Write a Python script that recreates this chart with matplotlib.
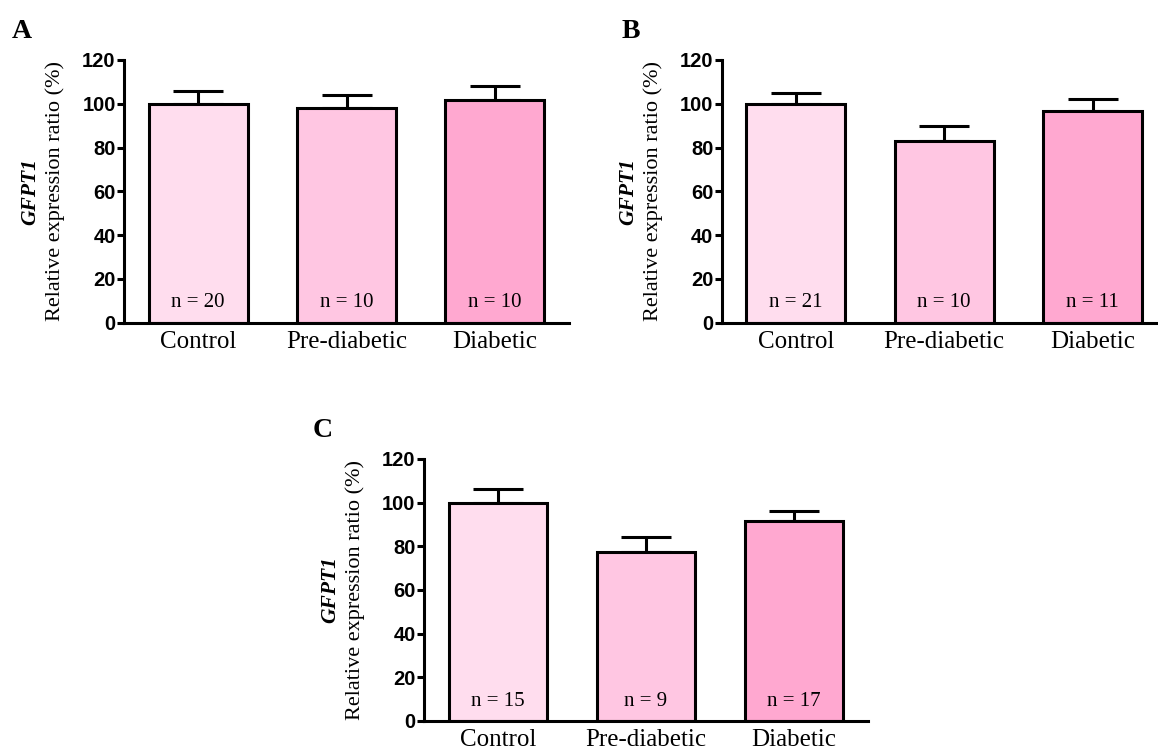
import numpy as np
import matplotlib
matplotlib.use('Agg')
import matplotlib.pyplot as plt

groups = ['Control', 'Pre-diabetic', 'Diabetic']
colors = ['#FFDDEE', '#FFC6E2', '#FFA8D0']

mean_a = [100, 98.2, 101.7]
sem_a = [5.8, 5.9, 6.3]
n_a = [20, 10, 10]

mean_b = [100, 83.2, 96.5]
sem_b = [4.9, 6.6, 5.6]
n_b = [21, 10, 11]

mean_c = [100, 77.2, 91.6]
sem_c = [6.2, 7.2, 4.4]
n_c = [15, 9, 17]

serif = 'Liberation Serif'
sans = 'Liberation Sans'


def panel(ax, means, sems, ns, letter, lx):
    x = np.arange(len(groups))
    ax.bar(x, means, width=0.667, color=colors, edgecolor='black', linewidth=2.2, zorder=2)
    ax.errorbar(x, means, yerr=[np.zeros(len(sems)), sems], fmt='none', ecolor='black',
                elinewidth=2.2, capsize=18, capthick=2.2, zorder=1)
    for xi, n in zip(x, ns):
        ax.text(xi, 9, 'n = %d' % n, ha='center', va='center', fontsize=15, family=serif)
    ax.set_xlim(-0.5, 2.5)
    ax.set_ylim(0, 120)
    ax.set_yticks(np.arange(0, 121, 20))
    ax.set_xticks(x)
    ax.set_xticklabels(groups, family=serif, fontsize=18)
    for lbl in ax.get_yticklabels():
        lbl.set_family(sans)
        lbl.set_fontweight('bold')
        lbl.set_fontsize(14.5)
    ax.tick_params(axis='x', length=0, pad=6)
    ax.tick_params(axis='y', length=5, width=2.2, pad=1)
    ax.spines['top'].set_visible(False)
    ax.spines['right'].set_visible(False)
    ax.spines['left'].set_linewidth(2.2)
    ax.spines['bottom'].set_linewidth(2.2)
    ax.spines['bottom'].set_zorder(3)
    ax.text(-0.211, 0.5, 'GFPT1', transform=ax.transAxes, rotation=90, ha='center', va='center',
            family=serif, fontweight='bold', style='italic', fontsize=15.5)
    ax.text(-0.155, 0.5, 'Relative expression ratio (%)', transform=ax.transAxes, rotation=90,
            ha='center', va='center', family=serif, fontsize=16)
    ax.text(lx, 1.084, letter, transform=ax.transAxes, ha='left', va='baseline',
            family=serif, fontweight='bold', fontsize=20)


fig = plt.figure(figsize=(11.58, 7.56), dpi=100)
ax1 = fig.add_axes([0.1071, 0.5732, 0.3843, 0.3475])
ax2 = fig.add_axes([0.6232, 0.5732, 0.3843, 0.3475])
ax3 = fig.add_axes([0.3661, 0.0463, 0.3834, 0.3466])

panel(ax1, mean_a, sem_a, n_a, 'A', -0.252)
panel(ax2, mean_b, sem_b, n_b, 'B', -0.225)
panel(ax3, mean_c, sem_c, n_c, 'C', -0.25)

fig.savefig('out.png', dpi=100)
